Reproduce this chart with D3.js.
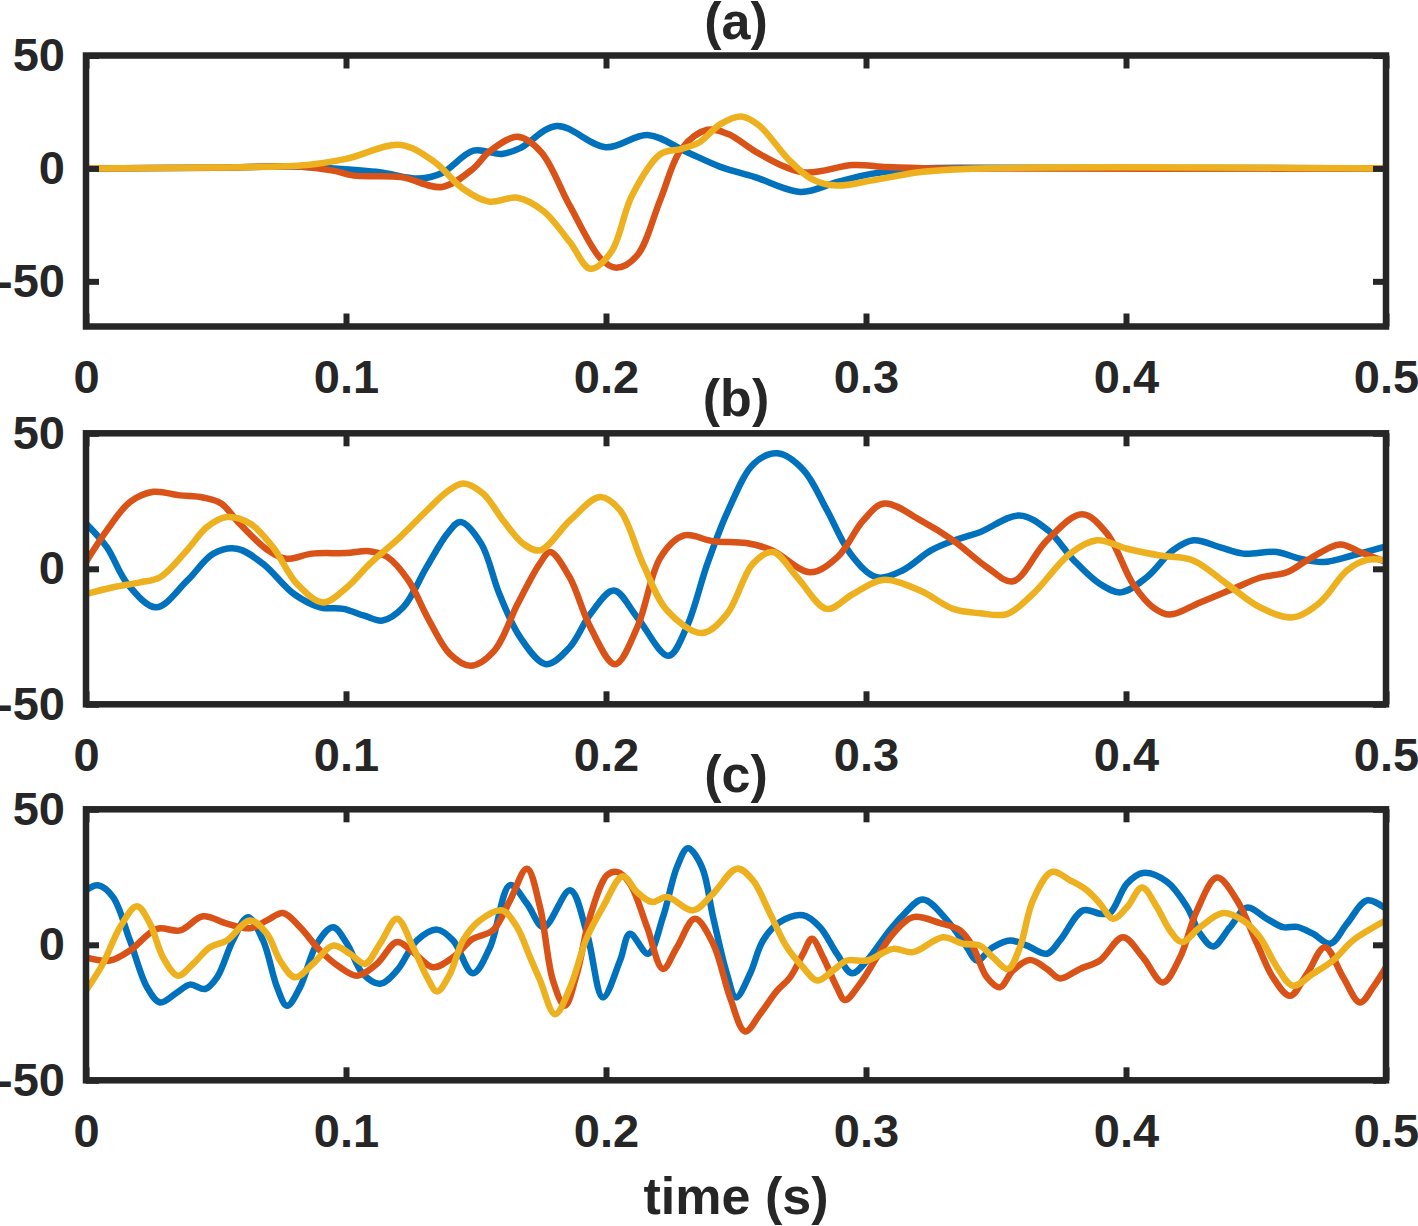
<!DOCTYPE html>
<html>
<head>
<meta charset="utf-8">
<script src="https://cdn.jsdelivr.net/npm/d3@7"></script>
<style>
  body { margin: 0; background: #fff; }
  svg text { font-family: "Liberation Sans", Arial, Helvetica, sans-serif; font-weight: bold; fill: #262626; }
</style>
</head>
<body>
<svg id="chart" width="1418" height="1226"></svg>
<script>
// time (s), value pairs
let aBlue = [[0,0],[0.05,0.3],[0.08,0.8],[0.095,0],[0.113,-1.7],[0.128,-4.5],[0.137,-2],[0.149,7.9],[0.160,6.4],[0.167,9],[0.181,18.8],[0.200,9.4],[0.216,14.8],[0.231,7.3],[0.244,0.7],[0.257,-3.7],[0.275,-10.4],[0.289,-6],[0.302,-2.4],[0.321,0],[0.35,0.3],[0.5,0]]
let aRed = [[0,0],[0.05,0.3],[0.082,0.8],[0.095,-1],[0.103,-3.2],[0.121,-3.8],[0.137,-8.2],[0.149,0],[0.155,7.3],[0.166,14],[0.175,7.3],[0.186,-16.4],[0.198,-40],[0.204,-44],[0.212,-38.5],[0.221,-13.5],[0.229,8.6],[0.239,17.1],[0.247,15.2],[0.259,6.4],[0.276,-1.7],[0.295,1.5],[0.308,0.6],[0.327,0],[0.5,0]]
let aYellow = [[0,0],[0.05,0.4],[0.085,1.5],[0.1,4.2],[0.121,10.4],[0.134,2.9],[0.145,-9],[0.155,-14.7],[0.166,-13],[0.176,-19],[0.186,-32.5],[0.194,-44.4],[0.202,-37],[0.210,-12],[0.221,6.4],[0.229,8.6],[0.236,11.6],[0.244,19.6],[0.252,23],[0.259,18.9],[0.270,4.2],[0.279,-4.6],[0.289,-7.6],[0.302,-5.4],[0.321,-1.6],[0.344,0],[0.5,0]]

let bBlue = [[0,16.7],[0.008,8],[0.016,-5.6],[0.027,-14.2],[0.039,-4.3],[0.049,5.6],[0.058,7.4],[0.068,1.9],[0.080,-9.3],[0.090,-14.2],[0.099,-14.8],[0.107,-17.3],[0.114,-19.1],[0.122,-14.2],[0.131,0.6],[0.139,13],[0.144,17.3],[0.152,9.3],[0.159,-9.3],[0.167,-25.3],[0.177,-35.2],[0.186,-29],[0.194,-16.7],[0.203,-8],[0.212,-17.9],[0.224,-32.1],[0.231,-21.6],[0.239,1.9],[0.247,21.6],[0.257,38.9],[0.266,42.6],[0.276,36.4],[0.285,21.6],[0.294,5.6],[0.304,-3.1],[0.314,-0.6],[0.325,6.8],[0.334,10.5],[0.344,13.6],[0.359,19.7],[0.370,14.2],[0.380,3.1],[0.390,-5.6],[0.398,-8.7],[0.408,-3.1],[0.418,6.8],[0.426,10.5],[0.436,8],[0.445,5.6],[0.458,6.2],[0.467,3.7],[0.476,2.5],[0.487,4.9],[0.5,8.3]]
let bRed = [[0,2.5],[0.008,14.2],[0.017,24.7],[0.026,28.4],[0.036,27.1],[0.045,26.3],[0.052,24.1],[0.059,16.7],[0.070,6.8],[0.077,3.7],[0.087,5.6],[0.100,5.8],[0.109,6.5],[0.116,4.3],[0.124,-4.3],[0.132,-19.1],[0.140,-31.5],[0.148,-35.8],[0.157,-30.3],[0.166,-13],[0.1746,2],[0.1785,6.2],[0.186,-3.1],[0.194,-21.6],[0.2035,-35.2],[0.212,-21.6],[0.221,4.3],[0.230,12.3],[0.241,10.2],[0.254,9.5],[0.264,6.8],[0.2785,-1.3],[0.289,4.3],[0.299,17.9],[0.307,24.1],[0.321,17.9],[0.3335,10.5],[0.3465,0.6],[0.3565,-4.6],[0.3696,10.5],[0.3831,20.1],[0.3927,13],[0.4027,-5.6],[0.4104,-14.2],[0.4169,-16.9],[0.4285,-12.4],[0.4412,-7.4],[0.4515,-3.3],[0.4619,-1.3],[0.4696,3.1],[0.4823,9],[0.49,6.2],[0.5,2.5]]
let bYellow = [[0,-9.3],[0.0104,-6.8],[0.0208,-5],[0.0285,-3.1],[0.0388,6.8],[0.0465,15.4],[0.0542,19.1],[0.0631,16.7],[0.0719,8],[0.0812,-5.6],[0.0912,-12.4],[0.1004,-6.8],[0.1092,1.9],[0.1208,11.7],[0.1312,21.6],[0.1388,28.4],[0.145,31.5],[0.1527,27.8],[0.1604,17.9],[0.1681,9.3],[0.1746,6.8],[0.1862,17.9],[0.1977,26.5],[0.2054,21.6],[0.2142,1.9],[0.2235,-15.4],[0.2369,-23.7],[0.2465,-16.7],[0.2565,1.9],[0.2642,6.2],[0.2735,-3.1],[0.285,-14.8],[0.295,-9.3],[0.3065,-4.1],[0.3208,-8],[0.3335,-14.8],[0.3438,-16.4],[0.3542,-16.7],[0.3642,-9.3],[0.3785,5.6],[0.3888,10.5],[0.4004,7.4],[0.4131,4.9],[0.4258,3.1],[0.4388,-5.6],[0.4515,-14.2],[0.4642,-17.9],[0.4746,-12.4],[0.485,-0.6],[0.4927,3.3],[0.5,3.1]]

let cBlue = [[0,20.1],[0.0046,22],[0.0104,17.6],[0.0169,1.6],[0.0235,-15.7],[0.0285,-21.3],[0.035,-17.6],[0.04,-14.7],[0.0458,-16.3],[0.0504,-12],[0.0565,1.6],[0.0623,10.2],[0.0681,1.6],[0.0735,-15.7],[0.0773,-22.5],[0.0823,-15.7],[0.0888,0.4],[0.095,6.5],[0.1004,0.4],[0.1065,-10.7],[0.1131,-14.4],[0.1196,-9.5],[0.1273,1.6],[0.135,5.6],[0.1412,1.6],[0.1488,-10.5],[0.1554,-0.9],[0.1631,22],[0.1696,15.2],[0.176,6.5],[0.1862,20.1],[0.1927,4.1],[0.1988,-19.4],[0.2054,-5.8],[0.2092,4.1],[0.2162,-3.3],[0.2219,10.2],[0.2273,28.7],[0.2315,35.6],[0.2369,28.7],[0.2412,10.2],[0.2465,-10.7],[0.25,-19.4],[0.2554,-10.7],[0.2604,1.6],[0.2669,8.4],[0.2758,10.9],[0.2823,6.5],[0.2888,-3.3],[0.2946,-10.5],[0.3004,-5.8],[0.3081,4.1],[0.3142,10.9],[0.3219,16.7],[0.3312,9],[0.3388,-0.9],[0.3427,-5.8],[0.3488,-0.9],[0.3554,1.6],[0.3619,-0.3],[0.3696,-3.3],[0.3746,1.6],[0.3835,12.7],[0.39,11.5],[0.3938,11.7],[0.4004,22.6],[0.4065,26.5],[0.4158,23.2],[0.4235,13.9],[0.4285,4.1],[0.4335,-0.6],[0.44,6.5],[0.4465,13.7],[0.4542,9.6],[0.4604,6.5],[0.4658,6.6],[0.4719,4.1],[0.4785,0.4],[0.485,7.8],[0.4927,16.4],[0.5,13.3]]
let cRed = [[0,-4.6],[0.0092,-5.8],[0.0169,-2.1],[0.0273,5.9],[0.0362,5.3],[0.045,10.5],[0.0542,7.8],[0.0631,6.1],[0.0696,9],[0.0758,11.7],[0.0823,6.5],[0.09,-2.1],[0.0977,-8.3],[0.1042,-11.4],[0.1119,-7],[0.1196,1],[0.1258,-2.7],[0.1335,-8.3],[0.1412,-4.6],[0.1488,2.2],[0.1565,5.3],[0.1631,16.4],[0.1696,28.1],[0.1746,14],[0.1796,-13.2],[0.1842,-22.5],[0.1888,-10.7],[0.1938,10.2],[0.2004,25.7],[0.2042,26.9],[0.2092,22.6],[0.2158,6.5],[0.2219,-8.9],[0.2273,-0.9],[0.2342,9.6],[0.2412,0.4],[0.2477,-19.4],[0.2535,-32],[0.2592,-25.6],[0.2658,-16.9],[0.2708,-12],[0.2758,-3.3],[0.2792,2.2],[0.2835,-4.6],[0.2888,-15.7],[0.2919,-20.4],[0.2977,-14.4],[0.3042,-4.6],[0.3104,4.1],[0.3181,10.2],[0.3285,8],[0.3362,5.3],[0.3412,-0.9],[0.3465,-12],[0.3515,-15.7],[0.3565,-9.5],[0.3631,-5.6],[0.3696,-8.9],[0.3746,-12.4],[0.3823,-8.9],[0.39,-5.8],[0.3988,2.8],[0.4065,-4.6],[0.4142,-13.9],[0.4208,-4.6],[0.4273,12.7],[0.435,24.8],[0.4427,16.4],[0.4504,0.4],[0.4565,-12],[0.4631,-18.8],[0.4696,-10.7],[0.4765,-0.9],[0.4835,-12],[0.49,-21.3],[0.495,-15.7],[0.5,-8.3]]
let cYellow = [[0,-16.9],[0.0065,-7],[0.0131,6.5],[0.0196,14.2],[0.0246,7.8],[0.0296,-4.6],[0.0354,-11.4],[0.0412,-7],[0.0477,-0.9],[0.0542,1.6],[0.0631,9],[0.0696,4.1],[0.0746,-5.8],[0.0804,-12],[0.0873,-7],[0.095,-0.3],[0.1015,-3.3],[0.1073,-7],[0.1131,0.4],[0.1196,9.6],[0.1258,-0.9],[0.1312,-12],[0.135,-17.2],[0.14,-10.7],[0.145,1.6],[0.1515,9],[0.16,12.7],[0.1658,6.5],[0.1708,-4.6],[0.1746,-13],[0.1804,-25.6],[0.1862,-15.7],[0.1927,2.8],[0.1988,13.9],[0.2065,25.3],[0.2119,19.5],[0.2177,15.8],[0.2235,17.6],[0.2335,12.7],[0.2412,18.9],[0.2504,28.1],[0.2565,23.8],[0.2631,11.5],[0.2696,-0.9],[0.2758,-8.3],[0.2812,-13.2],[0.2873,-9.5],[0.2927,-5.8],[0.3004,-5.8],[0.3104,-1.5],[0.3181,-2.7],[0.3296,2.8],[0.3373,0.4],[0.3438,-0.3],[0.3488,-4.6],[0.3546,-8.9],[0.3592,-0.9],[0.3642,16.4],[0.3715,26.9],[0.3785,23.8],[0.385,20.1],[0.39,15.2],[0.395,9.6],[0.4004,13.9],[0.4062,21.1],[0.4119,13.9],[0.4169,5.3],[0.4215,1],[0.4285,6.5],[0.4373,11.7],[0.445,9],[0.4515,2.8],[0.4581,-8.3],[0.4642,-15.1],[0.4719,-10.7],[0.4796,-5.8],[0.4873,1.6],[0.5,9]]

let titles = ['(a)', '(b)', '(c)']
let yDomains = [[-70, 50], [-50, 50], [-50, 50]]
let xTicks = [0, 0.1, 0.2, 0.3, 0.4, 0.5]
let xTickLabels = ['0', '0.1', '0.2', '0.3', '0.4', '0.5']
let yTicks = [-50, 0, 50]
let yTickLabels = ['-50', '0', '50']
let colors = ['#0072BD', '#D95319', '#EDB120']
let xLabel = 'time (s)'

let panelData = [[aBlue, aRed, aYellow], [bBlue, bRed, bYellow], [cBlue, cRed, cYellow]]

// layout
let left = 86, right = 1386
let panelTops = [55.5, 433.3, 809.3]
let panelHeight = 271
let axisColor = '#262626'

let svg = d3.select('#chart')

let x = d3.scaleLinear().domain([0, 0.5]).range([left, right])

panelData.forEach((series, i) => {
    let top = panelTops[i]
    let bottom = top + panelHeight
    let y = d3.scaleLinear().domain(yDomains[i]).range([bottom, top])

    let g = svg.append('g')

    g.append('clipPath')
        .attr('id', 'clip' + i)
        .append('rect')
        .attr('x', left).attr('y', top)
        .attr('width', right - left).attr('height', bottom - top)

    let line = d3.line()
        .x(d => x(d[0]))
        .y(d => y(d[1]))
        .curve(d3.curveCatmullRom.alpha(0.5))

    series.forEach((s, k) => {
        g.append('path')
            .attr('d', line(s))
            .attr('fill', 'none')
            .attr('stroke', colors[k])
            .attr('stroke-width', 6.5)
            .attr('stroke-linejoin', 'round')
            .attr('clip-path', 'url(#clip' + i + ')')
    })

    // axes with inward ticks on all four sides
    let fmtX = d => xTickLabels[xTicks.indexOf(d)]
    let fmtY = d => yTickLabels[yTicks.indexOf(d)]

    let bottomAxis = g.append('g')
        .attr('transform', 'translate(0,' + bottom + ')')
        .call(d3.axisBottom(x).tickValues(xTicks).tickFormat(fmtX).tickSizeInner(-13).tickSizeOuter(0).tickPadding(33))
    let topAxis = g.append('g')
        .attr('transform', 'translate(0,' + top + ')')
        .call(d3.axisTop(x).tickValues(xTicks).tickFormat('').tickSizeInner(-13).tickSizeOuter(0))
    let leftAxis = g.append('g')
        .attr('transform', 'translate(' + left + ',0)')
        .call(d3.axisLeft(y).tickValues(yTicks).tickFormat(fmtY).tickSizeInner(-13).tickSizeOuter(0).tickPadding(21))
    let rightAxis = g.append('g')
        .attr('transform', 'translate(' + right + ',0)')
        .call(d3.axisRight(y).tickValues(yTicks).tickFormat('').tickSizeInner(-13).tickSizeOuter(0))

    ;[bottomAxis, topAxis, leftAxis, rightAxis].forEach(ax => {
        ax.select('.domain').remove()
        ax.selectAll('line').attr('stroke', axisColor).attr('stroke-width', 6)
        ax.selectAll('text').attr('font-size', 47).attr('fill', axisColor)
            .attr('font-family', '"Liberation Sans", Arial, Helvetica, sans-serif')
            .attr('font-weight', 'bold')
    })

    g.append('rect')
        .attr('x', left).attr('y', top)
        .attr('width', right - left).attr('height', bottom - top)
        .attr('fill', 'none')
        .attr('stroke', axisColor)
        .attr('stroke-width', 6.5)

    g.append('text')
        .attr('x', (left + right) / 2)
        .attr('y', top - 17)
        .attr('text-anchor', 'middle')
        .attr('font-size', 52)
        .text(titles[i])
})

svg.append('text')
    .attr('x', (left + right) / 2)
    .attr('y', 1214)
    .attr('text-anchor', 'middle')
    .attr('font-size', 52)
    .text(xLabel)
</script>
</body>
</html>
